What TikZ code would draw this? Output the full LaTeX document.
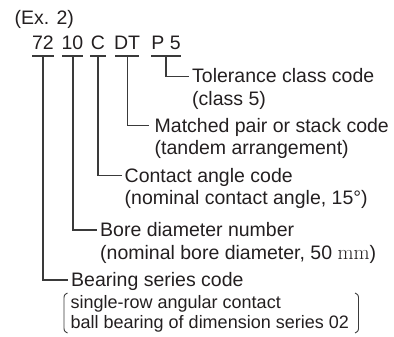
\documentclass[tikz,border=0pt]{standalone}
\usepackage[no-math]{fontspec}
\setmainfont{Liberation Sans}
\definecolor{ink}{HTML}{231F20}
\definecolor{wire}{HTML}{3A3A3A}
\begin{document}
\begin{tikzpicture}[x=1pt,y=-1pt,
  txt/.style={font=\fontsize{19.5}{22.5}\selectfont, text=ink, inner sep=0pt},
  lbl/.style={txt, anchor=west, text height=14pt, text depth=1pt},
  sub/.style={txt, anchor=base west},
  small/.style={font=\fontsize{18}{20.5}\selectfont, text=ink, inner sep=0pt, anchor=base west},
  code/.style={txt, anchor=base},
  wirestyle/.style={draw=wire, line width=1.05pt},
  uline/.style={draw=wire, line width=1.05pt}]
\useasboundingbox (0,0) rectangle (394,337);

% heading
\node[txt, anchor=base west] (ex) at (14.5,25) {(Ex. 2)};

% code groups
\node[code] (c72) at (43,50) {72};
\node[code] (c10) at (72.5,50) {10};
\node[code] (cC)  at (98,50) {C};
\node[code] (cDT) at (127,50) {DT};
\node[code] (cP)  at (166,50) {P 5};

% underlines
\draw[uline] (32,56) -- (54,56);
\draw[uline] (62,56) -- (83,56);
\draw[uline] (90,56) -- (106,56);
\draw[uline] (115,56) -- (139,56);
\draw[uline] (151,56) -- (181,56);

\coordinate (u72) at (43,56);
\coordinate (u10) at (73,56);
\coordinate (uC)  at (98,56);
\coordinate (uDT) at (127.5,56);
\coordinate (uP)  at (166,56);

% labels
\node[lbl] (tol) at (192,76.5) {Tolerance class code};
\node[sub] (tol2) at ([yshift=-22.5pt]tol.base west) {(class 5)};

\node[lbl] (mat) at (154.5,125.5) {Matched pair or stack code};
\node[sub] (mat2) at ([yshift=-22.5pt]mat.base west) {(tandem arrangement)};

\node[lbl] (con) at (124.5,175.5) {Contact angle code};
\node[sub] (con2) at ([yshift=-22pt]con.base west) {(nominal contact angle, 15°)};

\node[lbl] (bor) at (100,230) {Bore diameter number};
\node[sub] (bor2) at ([yshift=-22.5pt]bor.base west) {(nominal bore diameter, 50 $\mathrm{mm}$)};

\node[lbl] (bea) at (71,280) {Bearing series code};
\node[small] (bea2) at (70.5,308) {single-row angular contact};
\node[small] (bea3) at (70.5,328.5) {ball bearing of dimension series 02};

% connectors
\draw[wirestyle] (uP)  |- ([xshift=-3pt]tol.west);
\draw[wirestyle] (uDT) |- ([xshift=-6pt]mat.west);
\draw[wirestyle] (uC)  |- ([xshift=-3pt]con.west);
\draw[wirestyle] (u10) |- ([xshift=-3.5pt]bor.west);
\draw[wirestyle] (u72) |- ([xshift=-3.5pt]bea.west);

% parentheses
\draw[wirestyle, line width=0.9pt] (67.5,293) .. controls (64,295) .. (64,300) -- (64,326) .. controls (64,331) .. (67.5,333);
\draw[wirestyle, line width=0.9pt] (355,293) .. controls (358.5,295) .. (358.5,300) -- (358.5,326) .. controls (358.5,331) .. (355,333);
\end{tikzpicture}
\end{document}
